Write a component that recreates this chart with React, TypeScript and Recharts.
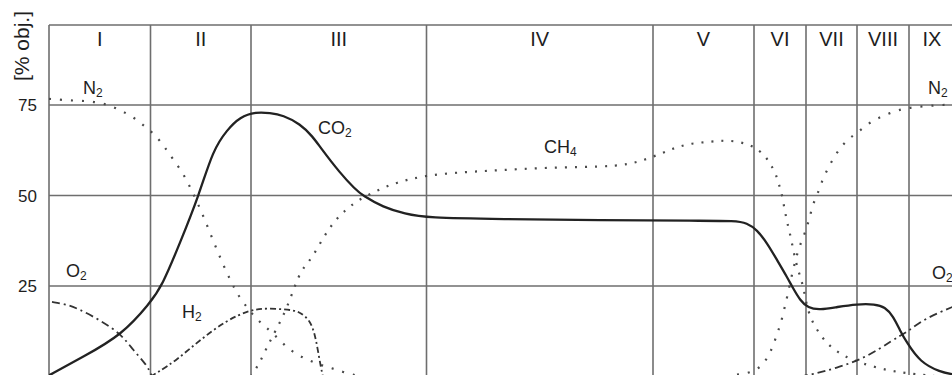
import React from 'react';
import { LineChart, Line, XAxis, YAxis, ReferenceLine, ReferenceArea, ReferenceDot } from 'recharts';

// Phase boundaries (time units) and labels
const phaseBounds = [0, 10.15, 20.2, 37.75, 60.4, 70.5, 75.7, 80.8, 86.0, 90.6];
const phaseLabels = ['I', 'II', 'III', 'IV', 'V', 'VI', 'VII', 'VIII', 'IX'];
const yTicks = [25, 50, 75];
const yTop = 97.1;

type P = { x: number; v: number | null };
const mk = (a: (number | null)[][]): P[] => a.map(([x, v]) => ({ x: x as number, v }));

const co2 = mk([
  [0, 0.3], [3.4, 5.4], [7.3, 11.5], [10.1, 20.3], [11.3, 25.0], [13.1, 36.9], [15.0, 50.1],
  [16.4, 62.6], [17.8, 68.1], [19.1, 71.7], [20.7, 73.1], [22.1, 72.8], [23.4, 72.2], [25.1, 69.8],
  [26.4, 66.2], [27.1, 63.4], [29.1, 56.2], [30.6, 51.8], [31.4, 49.9], [33.4, 46.8], [35.6, 44.9],
  [37.8, 43.8], [45.1, 43.5], [55.1, 43.2], [65.1, 43.0], [68.6, 43.0], [69.8, 42.4], [70.8, 40.5],
  [71.8, 36.9], [72.8, 32.2], [73.8, 27.5], [74.4, 24.4], [75.1, 21.1], [75.9, 18.9], [77.1, 18.4],
  [78.8, 19.2], [80.8, 20.0], [82.6, 20.0], [83.6, 19.2], [84.4, 16.7], [85.1, 12.7], [85.8, 9.3],
  [87.1, 4.0], [89.1, 1.2], [90.6, 0.5],
]);

const n2 = mk([
  [0, 76.7], [1.3, 76.4], [2.6, 76.2], [3.9, 76.1], [5.1, 75.6], [6.3, 74.7], [7.3, 73.3],
  [8.4, 71.7], [9.4, 69.5], [10.3, 67.5], [11.2, 64.8], [11.9, 62.0], [12.6, 59.3], [13.3, 56.5],
  [13.9, 53.5], [14.4, 50.7], [15.4, 44.6], [16.3, 38.3], [17.3, 31.6], [18.3, 25.6], [18.9, 22.5],
  [19.6, 19.8], [20.4, 17.0], [21.4, 14.2], [22.4, 12.0], [23.8, 7.9], [24.9, 5.9], [25.9, 4.6],
  [27.1, 3.2], [28.3, 2.3], [29.4, 1.2], [30.6, 0.4], [50.0, null],
  [68.8, 0.5], [70.1, 1.0], [71.2, 2.6], [71.9, 5.4], [72.4, 8.4], [72.8, 11.7], [73.2, 14.8], [73.5, 18.4],
  [73.8, 21.7], [74.3, 28.3], [74.9, 34.9], [75.4, 38.3], [75.8, 41.3], [76.1, 44.3], [76.4, 47.7],
  [76.9, 50.7], [77.3, 54.0], [77.8, 57.0], [78.4, 60.1], [79.1, 63.1], [79.9, 65.6], [80.9, 67.5],
  [81.9, 69.8], [82.9, 71.4], [84.1, 72.8], [85.3, 73.9], [86.4, 74.4], [87.8, 74.7], [89.1, 75.0],
  [90.6, 75.1],
]);

const ch4 = mk([
  [20.2, 0], [20.6, 1.8], [21.1, 4.0], [21.9, 8.7], [22.8, 13.4], [23.8, 18.9], [24.8, 26.7],
  [25.4, 30.0], [26.3, 32.7], [27.4, 38.3], [28.4, 42.4], [29.4, 45.4], [30.9, 48.8], [32.9, 51.5],
  [34.6, 53.5], [37.8, 55.7], [41.8, 56.5], [45.1, 57.0], [49.1, 57.6], [53.4, 57.9], [56.8, 58.1],
  [59.1, 59.3], [61.3, 61.7], [62.8, 63.4], [64.4, 64.5], [66.1, 64.8], [67.6, 65.3], [69.1, 64.8],
  [70.1, 63.9], [70.7, 63.1], [71.4, 61.5], [71.9, 59.8], [72.3, 57.9], [72.7, 55.9], [72.9, 53.7],
  [73.2, 51.5], [73.5, 47.1], [73.8, 42.7], [74.2, 38.3], [74.5, 33.8], [74.9, 29.4], [75.4, 25.3],
  [75.7, 20.6], [76.1, 16.4], [76.9, 12.3], [77.9, 8.7], [79.3, 5.9], [81.1, 3.7], [84.1, 1.5],
  [86.4, 0.7], [88.6, 0.1],
]);

const h2 = mk([
  [10.15, 0], [10.8, 1.0], [12.8, 4.6], [15.1, 10.1], [17.8, 15.6], [20.1, 18.4], [21.8, 18.9],
  [24.4, 18.4], [25.1, 17.7], [26.1, 15.6], [26.6, 11.5], [26.9, 7.1], [27.2, 2.3], [27.4, 0],
]);

const o2Left = mk([
  [0.3, 20.6], [1.6, 20.0], [2.8, 18.9], [5.1, 15.6], [7.3, 11.5], [8.4, 7.3], [9.8, 3.2], [10.3, 0],
]);

const o2Right = mk([
  [75.1, 0], [76.1, 0.4], [79.1, 2.6], [81.8, 5.4], [84.4, 10.1], [85.8, 12.3], [87.4, 15.6],
  [89.1, 17.8], [90.6, 19.5],
]);

// Gas annotations: [x, y, main text, subscript]
const gasLabels: [number, number, string, string][] = [
  [3.4, 78.0, 'N', '2'],
  [87.9, 78.0, 'N', '2'],
  [26.9, 67.0, 'CO', '2'],
  [49.5, 61.7, 'CH', '4'],
  [1.7, 27.5, 'O', '2'],
  [88.3, 26.9, 'O', '2'],
  [13.3, 16.2, 'H', '2'],
];

const gridColor = '#6e6e6e';
const textColor = '#1e1e1e';

const renderYLabel = (props: any) => {
  const vb = props.viewBox || { x: 0, y: 25 };
  const cx = vb.x + 21;
  const cy = vb.y + 21;
  return (
    <text
      x={cx}
      y={cy}
      transform={`rotate(-90 ${cx} ${cy})`}
      textAnchor="middle"
      dominantBaseline="central"
      fontSize={21}
      fill={textColor}
    >
      [% obj.]
    </text>
  );
};

export default function App() {
  return (
    <div
      style={{
        position: 'absolute',
        left: 0,
        top: 0,
        width: 952,
        height: 375,
        overflow: 'hidden',
        background: '#fff',
        fontFamily: '"Liberation Sans", Arial, sans-serif',
      }}
    >
      <LineChart
        width={962}
        height={380}
        margin={{ top: 25, right: 7, bottom: 3.5, left: 0 }}
        style={{ fontFamily: '"Liberation Sans", Arial, sans-serif' }}
      >
        <XAxis type="number" dataKey="x" domain={[0, 90.6]} hide allowDataOverflow />
        <YAxis
          type="number"
          domain={[0, yTop]}
          ticks={yTicks}
          width={49}
          axisLine={false}
          tickLine={false}
          tickSize={10}
          tick={{ fontSize: 17, fill: textColor }}
          allowDataOverflow
          label={renderYLabel}
        />
        {yTicks.concat([yTop]).map((v) => (
          <ReferenceLine key={'h' + v} y={v} stroke={gridColor} strokeWidth={1.6} ifOverflow="visible" />
        ))}
        {phaseBounds.slice(0, -1).map((b) => (
          <ReferenceLine key={'v' + b} x={b} stroke={gridColor} strokeWidth={1.6} ifOverflow="visible" />
        ))}
        {phaseLabels.map((lab, i) => (
          <ReferenceArea
            key={'a' + lab}
            x1={phaseBounds[i]}
            x2={phaseBounds[i + 1]}
            fill="#fff"
            fillOpacity={0}
            stroke="none"
            ifOverflow="visible"
            label={{ value: lab, position: 'insideTop', offset: 7, fontSize: 20, fill: textColor }}
          />
        ))}
        <Line data={n2} dataKey="v" type="basis" stroke="#4a4a4a" strokeWidth={2.2} strokeDasharray="2 9" dot={false} isAnimationActive={false} />
        <Line data={ch4} dataKey="v" type="basis" stroke="#4a4a4a" strokeWidth={2.2} strokeDasharray="2 8" dot={false} isAnimationActive={false} />
        <Line data={h2} dataKey="v" type="basis" stroke="#333" strokeWidth={1.8} strokeDasharray="6 3 2 3" dot={false} isAnimationActive={false} />
        <Line data={o2Left} dataKey="v" type="basis" stroke="#333" strokeWidth={1.8} strokeDasharray="8 4 2 4" dot={false} isAnimationActive={false} />
        <Line data={o2Right} dataKey="v" type="basis" stroke="#333" strokeWidth={1.8} strokeDasharray="8 4 2 4" dot={false} isAnimationActive={false} />
        <Line data={co2} dataKey="v" type="basis" stroke="#222" strokeWidth={2.3} dot={false} isAnimationActive={false} />
        {gasLabels.map(([x, y, main, sub], i) => (
          <ReferenceDot
            key={'g' + i}
            x={x}
            y={y}
            r={0}
            ifOverflow="visible"
            shape={(p: any) => (
              <text x={p.cx} y={p.cy} fontSize={18} fill={textColor} textAnchor="start">
                {main}
                <tspan fontSize={12} dy={3}>{sub}</tspan>
              </text>
            )}
          />
        ))}
      </LineChart>
    </div>
  );
}
